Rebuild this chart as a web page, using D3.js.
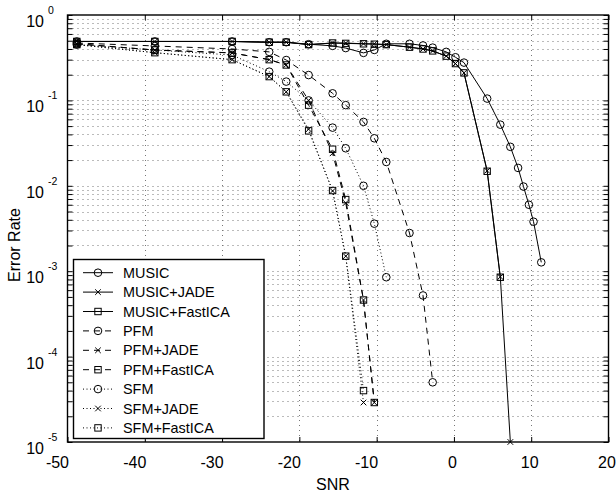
<!DOCTYPE html>
<html>
<head>
<meta charset="utf-8">
<script src="https://cdn.jsdelivr.net/npm/d3@7"></script>
<style>
  body { margin: 0; background: #fff; }
  svg { display: block; font-family: "Liberation Sans", Arial, sans-serif; }
</style>
</head>
<body>
<div id="chart"></div>
<script>
// SNR points shared by all curves (each curve uses the first N of them)
const snr = [-48.8, -38.7, -28.7, -23.9, -21.7, -18.8, -15.7, -14.0, -11.7, -10.3, -8.75,
  -5.75, -4.0, -2.75, -1.0, 0.2, 1.3, 4.3, 6.0, 7.3, 8.3, 9.0, 9.7, 10.3, 11.3];

const music = [0.49, 0.49, 0.49, 0.48, 0.48, 0.455, 0.435, 0.41, 0.36, 0.39, 0.46,
  0.46, 0.44, 0.415, 0.37, 0.32, 0.277, 0.105, 0.052, 0.0286, 0.0162, 0.0098, 0.006, 0.0038, 0.00127];
const musicJade = [0.49, 0.49, 0.49, 0.48, 0.48, 0.45, 0.47, 0.47, 0.46, 0.46, 0.45,
  0.42, 0.40, 0.38, 0.33, 0.27, 0.21, 0.015, 0.00086, 0.00001];
const musicIca = [0.49, 0.49, 0.49, 0.48, 0.48, 0.45, 0.47, 0.465, 0.46, 0.455, 0.45,
  0.42, 0.40, 0.38, 0.33, 0.27, 0.21, 0.0148, 0.00085];
const pfm = [0.47, 0.434, 0.40, 0.37, 0.297, 0.198, 0.121, 0.088, 0.056, 0.036, 0.019,
  0.0028, 0.00052, 0.00005];
const pfmJade = [0.46, 0.389, 0.36, 0.30, 0.26, 0.10, 0.024, 0.0063, 0.00046, 0.000029];
const pfmIca = [0.46, 0.389, 0.36, 0.30, 0.26, 0.088, 0.0268, 0.0069, 0.00046, 0.000029];
const sfm = [0.45, 0.389, 0.34, 0.217, 0.166, 0.10, 0.048, 0.0275, 0.01, 0.0036, 0.00085];
const sfmJade = [0.45, 0.362, 0.30, 0.19, 0.126, 0.046, 0.0087, 0.0015, 0.000029];
const sfmIca = [0.45, 0.362, 0.30, 0.19, 0.126, 0.044, 0.0088, 0.0015, 0.00004];

const names = ["MUSIC", "MUSIC+JADE", "MUSIC+FastICA", "PFM", "PFM+JADE", "PFM+FastICA",
  "SFM", "SFM+JADE", "SFM+FastICA"];
const xTicks = [-50, -40, -30, -20, -10, 0, 10, 20];
const yExp = [0, -1, -2, -3, -4, -5];

const series = [
  { name: names[0], v: music, dash: null, mark: "o" },
  { name: names[1], v: musicJade, dash: null, mark: "x" },
  { name: names[2], v: musicIca, dash: null, mark: "s" },
  { name: names[3], v: pfm, dash: "6,5", mark: "o" },
  { name: names[4], v: pfmJade, dash: "6,5", mark: "x" },
  { name: names[5], v: pfmIca, dash: "6,5", mark: "s" },
  { name: names[6], v: sfm, dash: "1,2.5", mark: "o" },
  { name: names[7], v: sfmJade, dash: "1,2.5", mark: "x" },
  { name: names[8], v: sfmIca, dash: "1,2.5", mark: "s" }
];

const W = 616, H = 495;
const L = 67.5, R = 608.5, T = 15, B = 442;

const svg = d3.select("#chart").append("svg")
  .attr("width", W).attr("height", H);

const x = d3.scaleLinear().domain([-50, 20]).range([L, R]);
const y = d3.scaleLog().domain([1e-5, 1]).range([B, T]);

// grid values
const minor = [];
for (let e = -5; e < 0; e++) for (let m = 1; m <= 9; m++) minor.push(m * Math.pow(10, e));

const grid = svg.append("g").attr("stroke", "#777").attr("stroke-width", 1)
  .attr("stroke-dasharray", "1,4");
grid.selectAll(".gy").data(minor.filter(v => v > 1e-5)).join("line")
  .attr("x1", L).attr("x2", R)
  .attr("y1", d => Math.round(y(d)) + 0.5).attr("y2", d => Math.round(y(d)) + 0.5);
grid.selectAll(".gx").data(xTicks.slice(1, -1)).join("line")
  .attr("y1", T).attr("y2", B)
  .attr("x1", d => Math.round(x(d)) + 0.5).attr("x2", d => Math.round(x(d)) + 0.5);

// axes with inward ticks
const xAxis = svg.append("g").attr("transform", `translate(0,${B})`)
  .call(d3.axisBottom(x).tickValues(xTicks).tickSizeInner(-5).tickSizeOuter(0)
    .tickPadding(15).tickFormat(d => String(d)));
xAxis.selectAll("text").attr("font-size", 16).attr("fill", "#000")
  .attr("font-family", "Liberation Sans, Arial, sans-serif")
  .attr("text-anchor", d => d < 0 ? "end" : "middle")
  .attr("dx", d => d < 0 ? 1 : -2);
svg.append("g").attr("transform", `translate(0,${T})`)
  .call(d3.axisTop(x).tickValues(xTicks).tickSizeInner(-5).tickSizeOuter(0).tickFormat(""));

const yTickVals = minor.concat([1]);
svg.append("g").attr("transform", `translate(${L},0)`)
  .call(d3.axisLeft(y).tickValues(yTickVals).tickSizeInner(-5).tickSizeOuter(0).tickFormat(""));
svg.append("g").attr("transform", `translate(${R},0)`)
  .call(d3.axisRight(y).tickValues(yTickVals).tickSizeInner(-5).tickSizeOuter(0).tickFormat(""));

svg.selectAll(".domain").remove();
svg.selectAll(".tick line").attr("stroke", "#000").attr("stroke-width", 1);

svg.append("rect").attr("x", L).attr("y", T).attr("width", R - L).attr("height", B - T)
  .attr("fill", "none").attr("stroke", "#000").attr("stroke-width", 1.4);

// y tick labels: 10 with superscript exponent
const yl = svg.append("g").attr("fill", "#000");
yExp.forEach(e => {
  const yy = y(Math.pow(10, e));
  yl.append("text").attr("x", 44).attr("y", yy + 12).attr("text-anchor", "end")
    .attr("font-size", 16).text("10");
  yl.append("text").attr("x", 48).attr("y", yy - 1).attr("font-size", 10.5).text(String(e));
});

// axis titles
svg.append("text").attr("x", 333).attr("y", 490).attr("text-anchor", "middle")
  .attr("font-size", 16).text("SNR");
svg.append("text").attr("transform", "translate(20,245) rotate(-90)")
  .attr("text-anchor", "middle").attr("font-size", 16).text("Error Rate");

// markers
function drawMarker(g, mark, cx, cy) {
  if (mark === "o") {
    g.append("circle").attr("cx", cx).attr("cy", cy).attr("r", 3.8)
      .attr("fill", "none").attr("stroke", "#000").attr("stroke-width", 1);
  } else if (mark === "s") {
    g.append("rect").attr("x", cx - 3.2).attr("y", cy - 3.2).attr("width", 6.4).attr("height", 6.4)
      .attr("fill", "none").attr("stroke", "#000").attr("stroke-width", 1);
  } else {
    const s = 2.8;
    g.append("path").attr("d", `M${cx - s},${cy - s}L${cx + s},${cy + s}M${cx - s},${cy + s}L${cx + s},${cy - s}`)
      .attr("stroke", "#000").attr("stroke-width", 1);
  }
}

const line = d3.line().x(d => x(d[0])).y(d => y(d[1]));
const plot = svg.append("g");
series.forEach(s => {
  const pts = s.v.map((v, i) => [snr[i], v]);
  plot.append("path").datum(pts).attr("d", line)
    .attr("fill", "none").attr("stroke", "#000").attr("stroke-width", 1)
    .attr("stroke-dasharray", s.dash);
  const g = plot.append("g");
  pts.forEach(p => drawMarker(g, s.mark, x(p[0]), y(p[1])));
});

// legend
const lg = svg.append("g");
lg.append("rect").attr("x", 73.5).attr("y", 259.5).attr("width", 190.5).attr("height", 179)
  .attr("fill", "#fff").attr("stroke", "#000").attr("stroke-width", 1.4);
series.forEach((s, i) => {
  const yy = 272.7 + i * 19.4;
  lg.append("line").attr("x1", 83).attr("x2", 113).attr("y1", yy).attr("y2", yy)
    .attr("stroke", "#000").attr("stroke-width", 1).attr("stroke-dasharray", s.dash);
  drawMarker(lg, s.mark, 98, yy);
  lg.append("text").attr("x", 123).attr("y", yy + 5).attr("font-size", 14.4)
    .attr("fill", "#000").text(s.name);
});
</script>
</body>
</html>
